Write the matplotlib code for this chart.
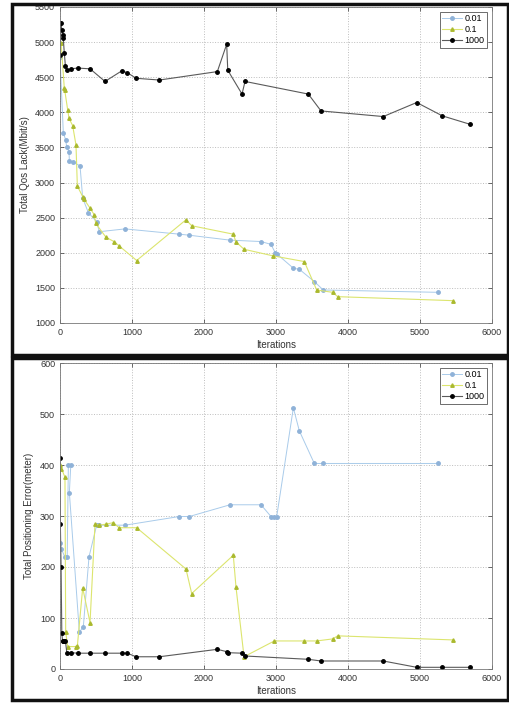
import numpy as np
from matplotlib import pyplot as plt
from matplotlib.patches import Rectangle

# data
iter_1000 = [0, 5, 15, 25, 35, 45, 60, 75, 95, 150, 245, 417, 625, 857, 935, 1056, 1380,
             2185, 2315, 2330, 2528, 2570, 3449, 3625, 4490, 4954, 5310, 5694]
qos_1000 = [4810, 5270, 5270, 5170, 5100, 5060, 4840, 4660, 4600, 4620, 4630, 4620, 4440,
            4590, 4565, 4485, 4460, 4580, 4970, 4600, 4260, 4440, 4260, 4020, 3940, 4140,
            3950, 3830]
err_1000 = [413, 284, 200, 71, 55, 55, 55, 55, 32, 32, 31, 31, 31, 31, 31, 24, 24, 38.6,
            34, 32, 31, 25.5, 19, 15.7, 15.7, 3.3, 3.3, 3.3]

qos_iter_001 = [0, 46, 79, 93, 125, 130, 176, 278, 315, 394, 509, 546, 903, 1657, 1796,
                2361, 2792, 2930, 2990, 3010, 3241, 3324, 3532, 3657, 5245]
qos_001 = [4790, 3710, 3607, 3507, 3440, 3310, 3290, 3240, 2780, 2570, 2443, 2300, 2340,
           2265, 2250, 2180, 2160, 2120, 2000, 1985, 1780, 1765, 1590, 1470, 1437]
err_iter_001 = [0, 20, 69, 100, 116, 150, 130, 269, 324, 403, 509, 546, 903, 1657, 1796,
                2361, 2792, 2930, 2970, 3010, 3241, 3324, 3532, 3657, 5245]
err_001 = [248, 235, 219, 219, 400, 400, 346, 72, 83, 220, 282, 282, 282, 299, 299, 322,
           322, 299, 299, 299, 512, 467, 403, 403, 403]

qos_iter_01 = [15, 60, 65, 106, 125, 176, 222, 241, 315, 330, 417, 477, 495, 639, 750, 819,
               1065, 1750, 1829, 2407, 2444, 2556, 2963, 3393, 3565, 3787, 3856, 5463]
qos_01 = [4990, 4340, 4320, 4040, 3915, 3810, 3535, 2950, 2800, 2770, 2635, 2540, 2420,
          2220, 2160, 2100, 1890, 2470, 2385, 2265, 2155, 2050, 1955, 1875, 1470, 1437,
          1375, 1318]
err_iter_01 = [0, 20, 69, 79, 106, 222, 241, 315, 417, 486, 546, 639, 741, 819, 1065, 1750,
               1829, 2407, 2444, 2556, 2977, 3393, 3565, 3787, 3856, 5463]
err_01 = [400, 393, 376, 73, 44, 44, 45, 159, 91, 284, 282, 284, 287, 277, 277, 196, 148,
          223, 161, 24, 55, 55, 55, 59, 65, 57]

labels = ['0.01', '0.1', '1000']

plt.rcParams['font.family'] = ['Liberation Sans', 'DejaVu Sans']
W, H = 510, 704
fig = plt.figure(figsize=(W / 100, H / 100), dpi=100)

ax1 = fig.add_axes([60 / W, 1 - 323 / H, 432 / W, 316 / H])
ax2 = fig.add_axes([60 / W, 1 - 669 / H, 432 / W, 306 / H])

blue = '#a9cbea'
blue_m = '#8fb2d8'
green = '#dce56e'
green_m = '#aab92e'


def draw(ax, xb, yb, xg, yg, yk):
    ax.plot(xb, yb, color=blue, lw=0.7, marker='o', ms=2.5, mfc=blue_m, mec=blue_m, label=labels[0])
    ax.plot(xg, yg, color=green, lw=0.8, marker='^', ms=2.5, mfc=green_m, mec=green_m, label=labels[1])
    ax.plot(iter_1000, yk, color='#5a5a5a', lw=0.8, marker='o', ms=2.5, mfc='black', mec='black',
            label=labels[2])
    ax.set_xlim(0, 6000)
    ax.set_xticks(np.arange(0, 6001, 1000))
    ax.grid(True, linestyle=':', color='#bdbdbd', lw=0.7)
    ax.tick_params(direction='in', labelsize=6.5, length=3, width=0.5, colors='#333333',
                   top=True, right=True)
    for s in ax.spines.values():
        s.set_color('#777777')
        s.set_linewidth(0.6)
    ax.set_xlabel('Iterations', fontsize=7, color='#333333', labelpad=2)
    leg = ax.legend(loc='upper right', fontsize=6.5, fancybox=False, framealpha=1,
                    edgecolor='#555555', handlelength=2.2, borderpad=0.3, labelspacing=0.2,
                    handletextpad=0.3)
    leg.get_frame().set_linewidth(0.6)


draw(ax1, qos_iter_001, qos_001, qos_iter_01, qos_01, qos_1000)
ax1.set_ylim(1000, 5500)
ax1.set_yticks(np.arange(1000, 5501, 500))
ax1.set_ylabel('Total Qos Lack(Mbit/s)', fontsize=7, color='#333333')

draw(ax2, err_iter_001, err_001, err_iter_01, err_01, err_1000)
ax2.set_ylim(0, 600)
ax2.set_yticks(np.arange(0, 601, 100))
ax2.set_ylabel('Total Positioning Error(meter)', fontsize=7, color='#333333')

# black frames round the two panels
fig.add_artist(Rectangle((12 / W, 1 - 355 / H), 496 / W, 351 / H, transform=fig.transFigure,
                         fill=False, lw=2.5, edgecolor='#111111'))
fig.add_artist(Rectangle((12 / W, 1 - 700 / H), 496 / W, 342 / H, transform=fig.transFigure,
                         fill=False, lw=2.5, edgecolor='#111111'))

fig.savefig('out.png', dpi=100)
